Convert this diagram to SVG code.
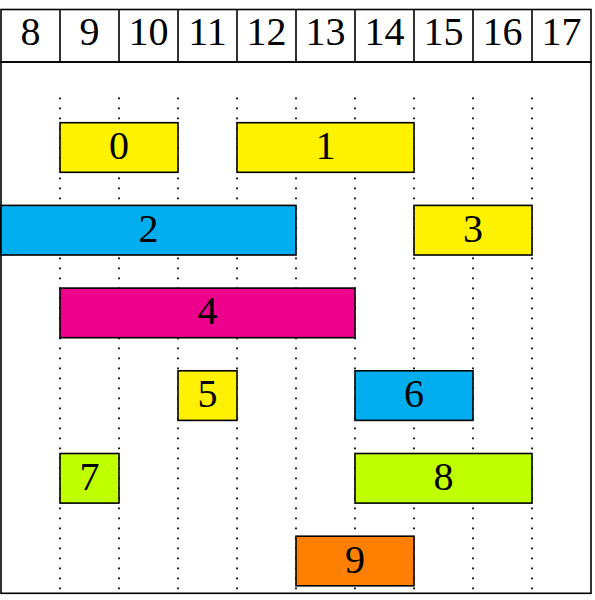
<svg xmlns="http://www.w3.org/2000/svg" width="595" height="600" viewBox="0 0 595 600">
<style>
text{font-family:"Liberation Serif","DejaVu Serif",serif;font-size:40px;text-anchor:middle;fill:#000}
.frame{fill:none;stroke:#000;stroke-width:1.6}
.grid{stroke:#000;stroke-width:1.8;stroke-dasharray:1.8 8.2}
.box{stroke:#000;stroke-width:1.6}
.y{fill:#FFF200}.c{fill:#00AEEF}.m{fill:#EC008C}.l{fill:#BFFF00}.o{fill:#FF8000}
</style>
<rect width="595" height="600" fill="#fff"/>
<g id="grid">
<path class="grid" d="M60 97.4V593M119 97.4V593M178 97.4V593M237 97.4V593M296 97.4V593M355 97.4V593M414 97.4V593M473 97.4V593M532 97.4V593"/>
</g>
<g id="header">
<rect class="frame" x="1" y="9.5" width="590" height="52.5"/>
<path class="frame" d="M60 9.5V62M119 9.5V62M178 9.5V62M237 9.5V62M296 9.5V62M355 9.5V62M414 9.5V62M473 9.5V62M532 9.5V62"/>
<text x="30.5" y="44.5">8</text>
<text x="89.5" y="44.5">9</text>
<text x="148.5" y="44.5">10</text>
<text x="207.5" y="44.5">11</text>
<text x="266.5" y="44.5">12</text>
<text x="325.5" y="44.5">13</text>
<text x="384.5" y="44.5">14</text>
<text x="443.5" y="44.5">15</text>
<text x="502.5" y="44.5">16</text>
<text x="561.5" y="44.5">17</text>
</g>
<rect class="frame" x="1" y="62" width="590" height="531.3"/>
<g id="n0"><rect class="box y" x="60" y="122.7" width="118" height="49.6"/><text x="119" y="159">0</text></g>
<g id="n1"><rect class="box y" x="237" y="122.7" width="177" height="49.6"/><text x="325.5" y="159">1</text></g>
<g id="n2"><rect class="box c" x="1" y="205.4" width="295" height="49.6"/><text x="148.5" y="241.7">2</text></g>
<g id="n3"><rect class="box y" x="414" y="205.4" width="118" height="49.6"/><text x="473" y="241.7">3</text></g>
<g id="n4"><rect class="box m" x="60" y="288.1" width="295" height="49.6"/><text x="207.5" y="324.4">4</text></g>
<g id="n5"><rect class="box y" x="178" y="370.8" width="59" height="49.6"/><text x="207.5" y="407.1">5</text></g>
<g id="n6"><rect class="box c" x="355" y="370.8" width="118" height="49.6"/><text x="414" y="407.1">6</text></g>
<g id="n7"><rect class="box l" x="60" y="453.5" width="59" height="49.6"/><text x="89.5" y="489.8">7</text></g>
<g id="n8"><rect class="box l" x="355" y="453.5" width="177" height="49.6"/><text x="443.5" y="489.8">8</text></g>
<g id="n9"><rect class="box o" x="296" y="536.2" width="118" height="49.6"/><text x="355" y="572.5">9</text></g>
<g id="connectors"></g>
</svg>
